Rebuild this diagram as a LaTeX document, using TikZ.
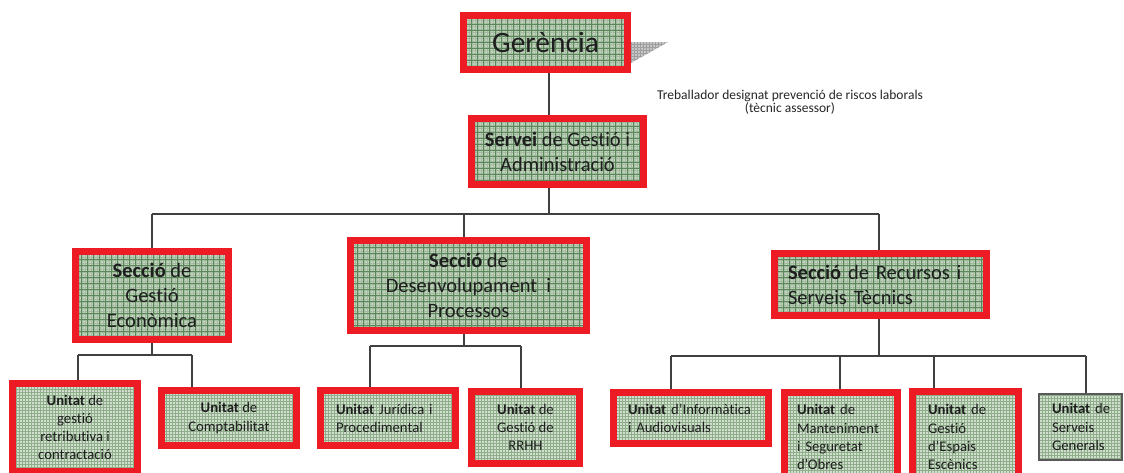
\documentclass[tikz,border=0pt]{standalone}
\usepackage{fontspec}
\setmainfont{Carlito}[Ligatures=NoCommon]
\usetikzlibrary{patterns,backgrounds,calc}
\definecolor{bred}{HTML}{ED1C24}
\definecolor{gdark}{HTML}{C2D3BF}
\definecolor{gdline}{HTML}{5A865A}
\definecolor{gdfine}{HTML}{A3BCA0}
\definecolor{glight}{HTML}{D2DECF}
\definecolor{glline}{HTML}{8EAE8A}
\definecolor{conn}{HTML}{404040}
\definecolor{txt}{HTML}{1E1E1E}
\pgfdeclarepatternformonly{mgrid}{\pgfqpoint{-1pt}{-1pt}}{\pgfqpoint{7pt}{7pt}}{\pgfqpoint{6pt}{6pt}}{%
  \pgfsetlinewidth{1pt}%
  \pgfpathmoveto{\pgfqpoint{0pt}{3pt}}\pgfpathlineto{\pgfqpoint{6pt}{3pt}}%
  \pgfpathmoveto{\pgfqpoint{3pt}{0pt}}\pgfpathlineto{\pgfqpoint{3pt}{6pt}}%
  \pgfusepath{stroke}}
\pgfdeclarepatternformonly{mgridf}{\pgfqpoint{-1pt}{-1pt}}{\pgfqpoint{4pt}{4pt}}{\pgfqpoint{3pt}{3pt}}{%
  \pgfsetlinewidth{0.5pt}%
  \pgfpathmoveto{\pgfqpoint{0pt}{1.5pt}}\pgfpathlineto{\pgfqpoint{3pt}{1.5pt}}%
  \pgfpathmoveto{\pgfqpoint{1.5pt}{0pt}}\pgfpathlineto{\pgfqpoint{1.5pt}{3pt}}%
  \pgfusepath{stroke}}
\tikzset{
  redbox/.style={draw=bred, line width=7pt,
    preaction={draw=none, fill=gdark},
    preaction={draw=none, pattern=mgridf, pattern color=gdfine},
    preaction={draw=none, pattern=mgrid, pattern color=gdline},
    inner sep=0pt, text=txt},
  unitbox/.style={draw=bred, line width=7pt,
    preaction={draw=none, fill=glight},
    preaction={draw=none, pattern=mgridf, pattern color=glline},
    inner sep=0pt, text=txt, font=\fontsize{14.7}{18.2}\selectfont},
  graybox/.style={unitbox, draw=black!65, line width=2pt},
  secfont/.style={font=\fontsize{20.5}{25}\selectfont},
  conline/.style={draw=conn, line width=1.2pt},
}
\begin{document}
\begin{tikzpicture}[x=1pt,y=-1pt]
\useasboundingbox (0,0) rectangle (1124,472);
\clip (0,0) rectangle (1124,472);

% top
\node[redbox, minimum width=164pt, minimum height=54pt, font=\fontsize{29.5}{32}\selectfont] (ger) at (545.5,42.5) {Gerència};
\node[redbox, secfont, align=center, minimum width=172pt, minimum height=66pt] (serv) at (557.5,151.5) {\textbf{Servei} de Gestió i\\Administració};
\node[font=\fontsize{13.5}{11.5}\selectfont, align=center, text=black!85] (tr) at (790,102.5) {Treballador designat prevenció de riscos laborals\\(tècnic assessor)};

% sections
\node[redbox, secfont, align=center, minimum width=153pt, minimum height=88pt] (secA) at (152,295.5) {\textbf{Secció} de\\Gestió\\Econòmica};
\node[redbox, secfont, align=center, minimum width=236pt, minimum height=90pt] (secB) at (468.5,285.5) {\textbf{Secció} de\\Desenvolupament~~i\\Processos};
\node[redbox, secfont, align=left, text width=185pt, minimum width=212pt, minimum height=62pt] (secC) at (880.5,284.5) {\textbf{Secció}~de~Recursos~i\\Serveis~Tècnics};

% units
\node[unitbox, align=center, minimum width=125pt, minimum height=88pt] (u1) at (75,427.5) {\textbf{Unitat} de\\gestió\\retributiva~i\\contractació};
\node[unitbox, align=center, minimum width=135pt, minimum height=55pt] (u2) at (229,418) {\textbf{Unitat} de\\Comptabilitat};
\node[unitbox, align=left, text width=104pt, minimum width=135pt, minimum height=55pt] (u3) at (388,418) {\textbf{Unitat}~Jurídica~i\\Procedimental};
\node[unitbox, align=center, minimum width=108pt, minimum height=72pt] (u4) at (525.5,427.5) {\textbf{Unitat} de\\Gestió de\\RRHH};
\node[unitbox, align=left, text width=126pt, minimum width=155pt, minimum height=51pt] (u5) at (691,418) {\textbf{Unitat}~d’Informàtica\\i~Audiovisuals};
\node[unitbox, align=left, text width=88pt, minimum width=113pt, minimum height=89pt] (u6) at (841,437) {\textbf{Unitat}~de\\Manteniment\\i~Seguretat\\d’Obres};
\node[unitbox, align=left, text width=75pt, minimum width=106pt, minimum height=91pt] (u7) at (965.5,437) {\textbf{Unitat}~de\\Gestió\\d’Espais\\Escènics};
\node[graybox, align=left, text width=57pt, minimum width=83pt, minimum height=66pt] (u8) at (1080.5,427) {\textbf{Unitat}~de\\Serveis\\Generals};

% junction coordinates
\coordinate (vx) at (549,0);
\coordinate (busL) at (152,214);
\coordinate (busB) at (464,214);
\coordinate (busR) at (879,214);
\coordinate (saL) at (78,355);
\coordinate (saR) at (192,355);
\coordinate (sbL) at (370,346);
\coordinate (sbR) at (521,346);
\coordinate (scL) at (671,356);
\coordinate (sc2) at (840,356);
\coordinate (sc3) at (934,356);
\coordinate (scR) at (1086,356);

\begin{scope}[on background layer]
\fill[white] (0,0) rectangle (1124,472);
\fill[gray!45] (631,42) -- (668,42) -- (631,63) -- cycle;
\fill[pattern=mgridf, pattern color=gray!75] (631,42) -- (668,42) -- (631,63) -- cycle;
\draw[conline] (vx |- ger.south) -- (vx |- serv.north);
\draw[conline] (vx |- serv.south) -- (vx |- busL);
\draw[conline] (busL) -- (busR);
\draw[conline] (busL) -- (secA.north);
\draw[conline] (busB) -- (busB |- secB.north);
\draw[conline] (busR) -- (busR |- secC.north);
\draw[conline] (secA.south) -- (secA.south |- saL);
\draw[conline] (saL) -- (saR);
\draw[conline] (saL) -- (saL |- u1.north);
\draw[conline] (saR) -- (saR |- u2.north);
\draw[conline] (busB |- secB.south) -- (busB |- sbL);
\draw[conline] (sbL) -- (sbR);
\draw[conline] (sbL) -- (sbL |- u3.north);
\draw[conline] (sbR) -- (sbR |- u4.north);
\draw[conline] (busR |- secC.south) -- (busR |- scL);
\draw[conline] (scL) -- (scR);
\draw[conline] (scL) -- (scL |- u5.north);
\draw[conline] (sc2) -- (sc2 |- u6.north);
\draw[conline] (sc3) -- (sc3 |- u7.north);
\draw[conline] (scR) -- (scR |- u8.north);
\end{scope}
\end{tikzpicture}
\end{document}
